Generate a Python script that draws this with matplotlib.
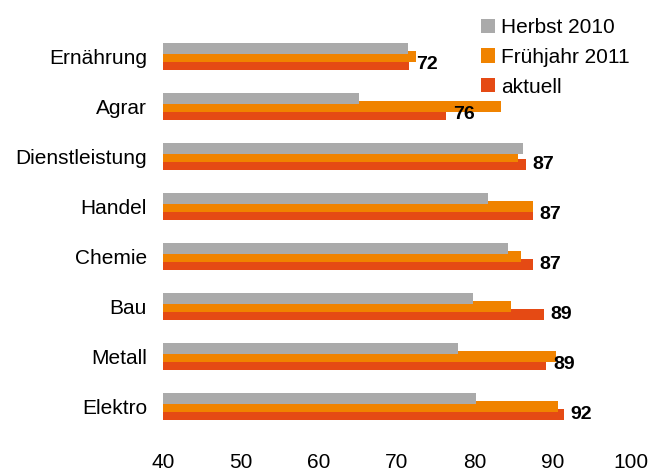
import matplotlib
matplotlib.use("Agg")
import matplotlib.pyplot as plt
import numpy as np

categories = ["Ernährung", "Agrar", "Dienstleistung", "Handel", "Chemie", "Bau", "Metall", "Elektro"]
herbst_2010 = [71.4, 65.1, 86.2, 81.7, 84.2, 79.7, 77.8, 80.1]
fruehjahr_2011 = [72.4, 83.3, 85.5, 87.4, 85.9, 84.6, 90.4, 90.6]
aktuell = [71.5, 76.3, 86.5, 87.4, 87.4, 88.8, 89.1, 91.4]
aktuell_labels = ["72", "76", "87", "87", "87", "89", "89", "92"]
series_names = ["Herbst 2010", "Frühjahr 2011", "aktuell"]
xticks = [40, 50, 60, 70, 80, 90, 100]

colors = ["#AAAAAA", "#F08300", "#E54A14"]

plt.rcParams['font.family'] = ['Liberation Sans', 'DejaVu Sans']

fig = plt.figure(figsize=(6.51, 4.71), dpi=100)
ax = fig.add_axes([163/651, 39.5/471, 468/651, 400/471])

y = np.arange(len(categories))
h = 0.22
off = 0.16
# draw red first so grey sits on top
cont_red = ax.barh(y + off, aktuell, height=h, color=colors[2], label=series_names[2], zorder=1)
cont_or = ax.barh(y, fruehjahr_2011, height=h, color=colors[1], label=series_names[1], zorder=2)
cont_gr = ax.barh(y - off, herbst_2010, height=h, color=colors[0], label=series_names[0], zorder=3)

ax.bar_label(cont_red, labels=aktuell_labels, padding=5, fontsize=14, fontweight='bold', zorder=5)

ax.set_xlim(40, 100)
ax.set_ylim(len(categories) - 0.5, -0.5)
ax.set_xticks(xticks)
ax.set_xticklabels([str(t) for t in xticks], fontsize=15)
ax.set_yticks(y)
ax.set_yticklabels(categories, fontsize=15)
ax.tick_params(axis='x', length=0, pad=15.5)
ax.tick_params(axis='y', length=0, pad=11.5)
for s in ax.spines.values():
    s.set_visible(False)

handles = [cont_gr, cont_or, cont_red]
leg = fig.legend(handles, series_names, loc='upper left', bbox_to_anchor=(481/651, 1 - 18/471),
                 frameon=False, fontsize=15, handlelength=0.67, handleheight=0.67,
                 handletextpad=0.3, labelspacing=0.52, borderpad=0, borderaxespad=0)

fig.savefig("out.png", dpi=100)
